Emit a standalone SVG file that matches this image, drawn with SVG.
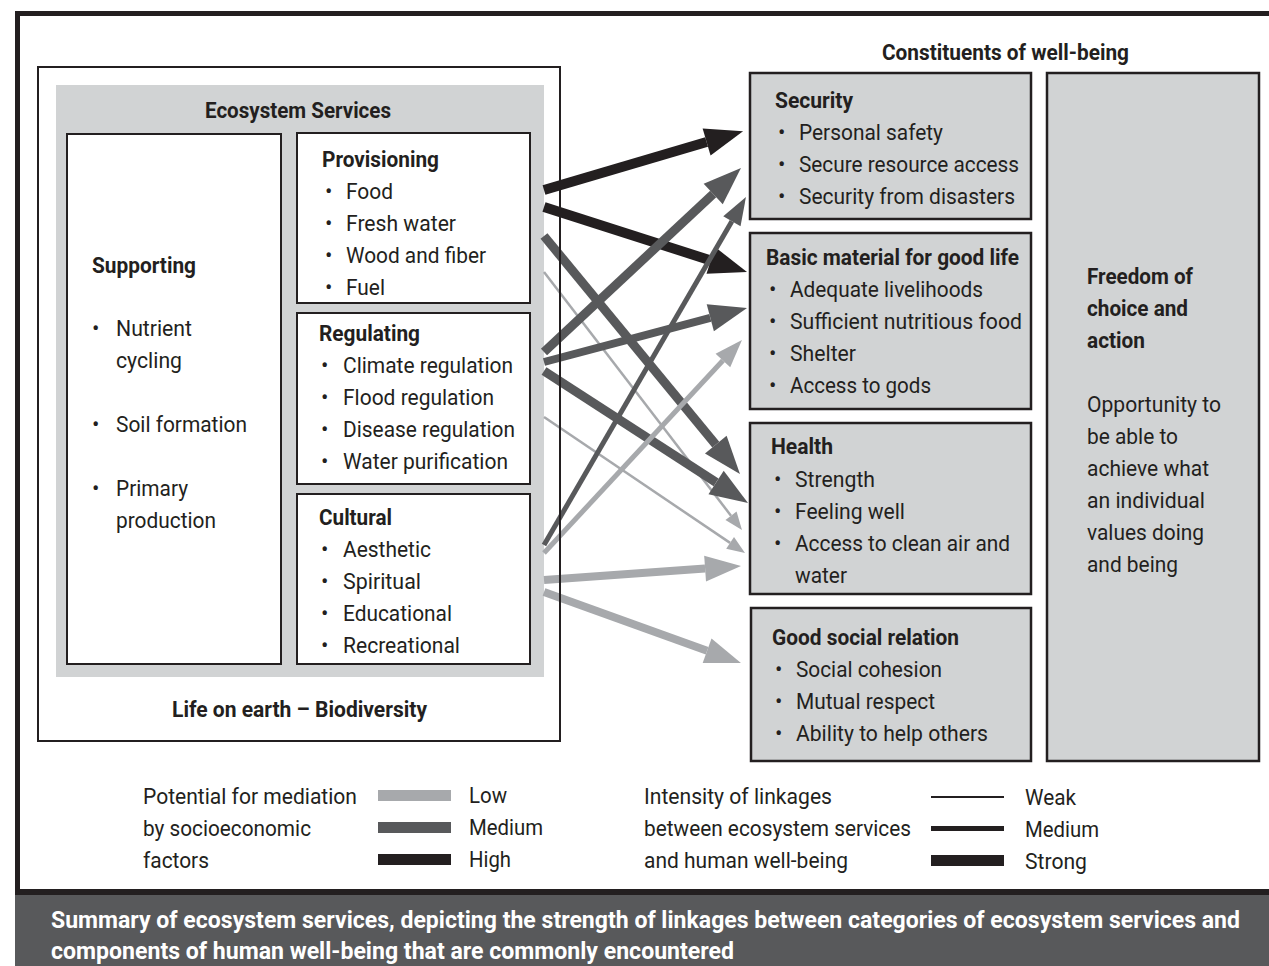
<svg xmlns="http://www.w3.org/2000/svg" width="1269" height="966" viewBox="0 0 1269 966">
  <style>
    .t { font-family: Roboto, "Liberation Sans", sans-serif; font-size: 22px; fill: #231f20; }
    .b { font-weight: 700; }
    .cap { font-family: Roboto, "Liberation Sans", sans-serif; font-size: 23px; font-weight: 700; fill: #ffffff; }
    .box { fill: #ffffff; stroke: #231f20; stroke-width: 2; }
    .gbox { fill: #d1d3d4; stroke: #231f20; stroke-width: 2.5; }
    .hi { stroke: #231f20; fill: none; }
    .md { stroke: #58595b; fill: none; }
    .lo { stroke: #a7a9ac; fill: none; }
  </style>
  <defs>
    <marker id="hHiL" markerUnits="userSpaceOnUse" orient="auto" refX="0" refY="0" markerWidth="40" markerHeight="30" overflow="visible">
      <path d="M0,-14 L38,0 L0,14 Z" fill="#231f20"/>
    </marker>
    <marker id="hMdL" markerUnits="userSpaceOnUse" orient="auto" refX="0" refY="0" markerWidth="40" markerHeight="30" overflow="visible">
      <path d="M0,-14 L38,0 L0,14 Z" fill="#58595b"/>
    </marker>
    <marker id="hMdM" markerUnits="userSpaceOnUse" orient="auto" refX="0" refY="0" markerWidth="30" markerHeight="22" overflow="visible">
      <path d="M0,-10 L28,0 L0,10 Z" fill="#58595b"/>
    </marker>
    <marker id="hLoL" markerUnits="userSpaceOnUse" orient="auto" refX="0" refY="0" markerWidth="40" markerHeight="30" overflow="visible">
      <path d="M0,-13 L36,0 L0,13 Z" fill="#a7a9ac"/>
    </marker>
    <marker id="hLoM" markerUnits="userSpaceOnUse" orient="auto" refX="0" refY="0" markerWidth="30" markerHeight="22" overflow="visible">
      <path d="M0,-10 L28,0 L0,10 Z" fill="#a7a9ac"/>
    </marker>
    <marker id="hLoS" markerUnits="userSpaceOnUse" orient="auto" refX="0" refY="0" markerWidth="20" markerHeight="16" overflow="visible">
      <path d="M0,-7 L18,0 L0,7 Z" fill="#a7a9ac"/>
    </marker>
  </defs>

  <!-- page frame and caption band -->
  <rect x="0" y="0" width="1269" height="966" fill="#ffffff"/>
  <rect x="15" y="11" width="1254" height="5" fill="#231f20"/>
  <rect x="15" y="11" width="5" height="884" fill="#231f20"/>
  <rect x="15" y="889" width="1254" height="6" fill="#231f20"/>
  <rect x="15" y="895" width="1254" height="71" fill="#58595b"/>
  <text class="cap" x="51" y="928" textLength="1189" lengthAdjust="spacingAndGlyphs">Summary of ecosystem services, depicting the strength of linkages between categories of ecosystem services and</text>
  <text class="cap" x="51" y="959" textLength="683" lengthAdjust="spacingAndGlyphs">components of human well-being that are commonly encountered</text>

  <!-- Life on earth container -->
  <g id="biodiversity">
    <rect x="38" y="67" width="522" height="674" fill="#ffffff"/>
    <rect x="56" y="85" width="488" height="592" fill="#d1d3d4"/>
    <text class="t b" x="205" y="118" textLength="186" lengthAdjust="spacingAndGlyphs">Ecosystem Services</text>
    <text class="t b" x="172" y="717" textLength="255" lengthAdjust="spacingAndGlyphs">Life on earth – Biodiversity</text>
  </g>

  <g id="supporting">
    <rect class="box" x="67" y="134" width="214" height="530"/>
    <text class="t b" x="92" y="273" textLength="104" lengthAdjust="spacingAndGlyphs">Supporting</text>
    <text class="t" x="92" y="336">•</text>
    <text class="t" x="116" y="336" textLength="76" lengthAdjust="spacingAndGlyphs">Nutrient</text>
    <text class="t" x="116" y="368" textLength="66" lengthAdjust="spacingAndGlyphs">cycling</text>
    <text class="t" x="92" y="432">•</text>
    <text class="t" x="116" y="432" textLength="131" lengthAdjust="spacingAndGlyphs">Soil formation</text>
    <text class="t" x="92" y="496">•</text>
    <text class="t" x="116" y="496" textLength="72" lengthAdjust="spacingAndGlyphs">Primary</text>
    <text class="t" x="116" y="528" textLength="100" lengthAdjust="spacingAndGlyphs">production</text>
  </g>

  <g id="provisioning">
    <rect class="box" x="297" y="133" width="233" height="170"/>
    <text class="t b" x="322" y="167" textLength="117" lengthAdjust="spacingAndGlyphs">Provisioning</text>
    <text class="t" x="325" y="199">•</text>
    <text class="t" x="346" y="199" textLength="47" lengthAdjust="spacingAndGlyphs">Food</text>
    <text class="t" x="325" y="231">•</text>
    <text class="t" x="346" y="231" textLength="110" lengthAdjust="spacingAndGlyphs">Fresh water</text>
    <text class="t" x="325" y="263">•</text>
    <text class="t" x="346" y="263" textLength="140" lengthAdjust="spacingAndGlyphs">Wood and fiber</text>
    <text class="t" x="325" y="295">•</text>
    <text class="t" x="346" y="295" textLength="39" lengthAdjust="spacingAndGlyphs">Fuel</text>
  </g>

  <g id="regulating">
    <rect class="box" x="297" y="313" width="233" height="171"/>
    <text class="t b" x="319" y="341" textLength="101" lengthAdjust="spacingAndGlyphs">Regulating</text>
    <text class="t" x="321" y="373">•</text>
    <text class="t" x="343" y="373" textLength="170" lengthAdjust="spacingAndGlyphs">Climate regulation</text>
    <text class="t" x="321" y="405">•</text>
    <text class="t" x="343" y="405" textLength="151" lengthAdjust="spacingAndGlyphs">Flood regulation</text>
    <text class="t" x="321" y="437">•</text>
    <text class="t" x="343" y="437" textLength="172" lengthAdjust="spacingAndGlyphs">Disease regulation</text>
    <text class="t" x="321" y="469">•</text>
    <text class="t" x="343" y="469" textLength="165" lengthAdjust="spacingAndGlyphs">Water purification</text>
  </g>

  <g id="cultural">
    <rect class="box" x="297" y="494" width="233" height="170"/>
    <text class="t b" x="319" y="525" textLength="73" lengthAdjust="spacingAndGlyphs">Cultural</text>
    <text class="t" x="321" y="557">•</text>
    <text class="t" x="343" y="557" textLength="88" lengthAdjust="spacingAndGlyphs">Aesthetic</text>
    <text class="t" x="321" y="589">•</text>
    <text class="t" x="343" y="589" textLength="78" lengthAdjust="spacingAndGlyphs">Spiritual</text>
    <text class="t" x="321" y="621">•</text>
    <text class="t" x="343" y="621" textLength="109" lengthAdjust="spacingAndGlyphs">Educational</text>
    <text class="t" x="321" y="653">•</text>
    <text class="t" x="343" y="653" textLength="117" lengthAdjust="spacingAndGlyphs">Recreational</text>
  </g>

  <!-- linkages: ecosystem services to constituents of well-being -->
  <g id="connectors">
    <line class="lo" x1="544" y1="272" x2="731" y2="515.7" stroke-width="2.5" marker-end="url(#hLoS)"/>
    <line class="lo" x1="544" y1="417" x2="730.1" y2="542.9" stroke-width="2.5" marker-end="url(#hLoS)"/>
    <line class="hi" x1="544" y1="190" x2="706.6" y2="142" stroke-width="10" marker-end="url(#hHiL)"/>
    <line class="hi" x1="544" y1="207" x2="710.8" y2="260.4" stroke-width="10" marker-end="url(#hHiL)"/>
    <line class="md" x1="544" y1="236" x2="715.8" y2="444.7" stroke-width="9" marker-end="url(#hMdL)"/>
    <line class="md" x1="544" y1="371" x2="716.1" y2="482.4" stroke-width="9" marker-end="url(#hMdL)"/>
    <line class="md" x1="544" y1="352" x2="713.2" y2="194" stroke-width="9" marker-end="url(#hMdL)"/>
    <line class="md" x1="544" y1="362" x2="710.3" y2="317.8" stroke-width="8" marker-end="url(#hMdL)"/>
    <line class="md" x1="544" y1="545" x2="731.9" y2="221.2" stroke-width="5" marker-end="url(#hMdM)"/>
    <line class="lo" x1="544" y1="553" x2="722.9" y2="360.5" stroke-width="5" marker-end="url(#hLoM)"/>
    <line class="lo" x1="544" y1="580" x2="705.1" y2="568.6" stroke-width="8" marker-end="url(#hLoL)"/>
    <line class="lo" x1="544" y1="592" x2="707.1" y2="650.8" stroke-width="8" marker-end="url(#hLoL)"/>
  </g>

  <!-- outline of the biodiversity container sits over the linkage lines -->
  <rect x="38" y="67" width="522" height="674" fill="none" stroke="#231f20" stroke-width="2"/>

  <text class="t b" x="882" y="60" textLength="247" lengthAdjust="spacingAndGlyphs">Constituents of well-being</text>

  <g id="security">
    <rect class="gbox" x="750" y="73" width="281" height="146"/>
    <text class="t b" x="775" y="108" textLength="78" lengthAdjust="spacingAndGlyphs">Security</text>
    <text class="t" x="778" y="140">•</text>
    <text class="t" x="799" y="140" textLength="144" lengthAdjust="spacingAndGlyphs">Personal safety</text>
    <text class="t" x="778" y="172">•</text>
    <text class="t" x="799" y="172" textLength="220" lengthAdjust="spacingAndGlyphs">Secure resource access</text>
    <text class="t" x="778" y="204">•</text>
    <text class="t" x="799" y="204" textLength="216" lengthAdjust="spacingAndGlyphs">Security from disasters</text>
  </g>

  <g id="basic-material">
    <rect class="gbox" x="750" y="233" width="281" height="176"/>
    <text class="t b" x="766" y="265" textLength="253" lengthAdjust="spacingAndGlyphs">Basic material for good life</text>
    <text class="t" x="769" y="297">•</text>
    <text class="t" x="790" y="297" textLength="193" lengthAdjust="spacingAndGlyphs">Adequate livelihoods</text>
    <text class="t" x="769" y="329">•</text>
    <text class="t" x="790" y="329" textLength="232" lengthAdjust="spacingAndGlyphs">Sufficient nutritious food</text>
    <text class="t" x="769" y="361">•</text>
    <text class="t" x="790" y="361" textLength="66" lengthAdjust="spacingAndGlyphs">Shelter</text>
    <text class="t" x="769" y="393">•</text>
    <text class="t" x="790" y="393" textLength="141" lengthAdjust="spacingAndGlyphs">Access to gods</text>
  </g>

  <g id="health">
    <rect class="gbox" x="750" y="423" width="281" height="171"/>
    <text class="t b" x="771" y="454" textLength="62" lengthAdjust="spacingAndGlyphs">Health</text>
    <text class="t" x="774" y="487">•</text>
    <text class="t" x="795" y="487" textLength="80" lengthAdjust="spacingAndGlyphs">Strength</text>
    <text class="t" x="774" y="519">•</text>
    <text class="t" x="795" y="519" textLength="110" lengthAdjust="spacingAndGlyphs">Feeling well</text>
    <text class="t" x="774" y="551">•</text>
    <text class="t" x="795" y="551" textLength="215" lengthAdjust="spacingAndGlyphs">Access to clean air and</text>
    <text class="t" x="795" y="583" textLength="52" lengthAdjust="spacingAndGlyphs">water</text>
  </g>

  <g id="social-relations">
    <rect class="gbox" x="751" y="608" width="280" height="153"/>
    <text class="t b" x="772" y="645" textLength="187" lengthAdjust="spacingAndGlyphs">Good social relation</text>
    <text class="t" x="775" y="677">•</text>
    <text class="t" x="796" y="677" textLength="146" lengthAdjust="spacingAndGlyphs">Social cohesion</text>
    <text class="t" x="775" y="709">•</text>
    <text class="t" x="796" y="709" textLength="139" lengthAdjust="spacingAndGlyphs">Mutual respect</text>
    <text class="t" x="775" y="741">•</text>
    <text class="t" x="796" y="741" textLength="192" lengthAdjust="spacingAndGlyphs">Ability to help others</text>
  </g>

  <g id="freedom">
    <rect class="gbox" x="1047" y="73" width="212" height="688"/>
    <text class="t b" x="1087" y="284" textLength="106" lengthAdjust="spacingAndGlyphs">Freedom of</text>
    <text class="t b" x="1087" y="316" textLength="101" lengthAdjust="spacingAndGlyphs">choice and</text>
    <text class="t b" x="1087" y="348" textLength="58" lengthAdjust="spacingAndGlyphs">action</text>
    <text class="t" x="1087" y="412" textLength="134" lengthAdjust="spacingAndGlyphs">Opportunity to</text>
    <text class="t" x="1087" y="444" textLength="91" lengthAdjust="spacingAndGlyphs">be able to</text>
    <text class="t" x="1087" y="476" textLength="122" lengthAdjust="spacingAndGlyphs">achieve what</text>
    <text class="t" x="1087" y="508" textLength="118" lengthAdjust="spacingAndGlyphs">an individual</text>
    <text class="t" x="1087" y="540" textLength="117" lengthAdjust="spacingAndGlyphs">values doing</text>
    <text class="t" x="1087" y="572" textLength="91" lengthAdjust="spacingAndGlyphs">and being</text>
  </g>

  <!-- legends -->
  <g id="legend-mediation">
    <text class="t" x="143" y="804" textLength="214" lengthAdjust="spacingAndGlyphs">Potential for mediation</text>
    <text class="t" x="143" y="836" textLength="168" lengthAdjust="spacingAndGlyphs">by socioeconomic</text>
    <text class="t" x="143" y="868" textLength="66" lengthAdjust="spacingAndGlyphs">factors</text>
    <rect x="378" y="790" width="73" height="11" fill="#a7a9ac"/>
    <rect x="378" y="822" width="73" height="11" fill="#58595b"/>
    <rect x="378" y="854" width="73" height="11" fill="#231f20"/>
    <text class="t" x="469" y="803" textLength="38" lengthAdjust="spacingAndGlyphs">Low</text>
    <text class="t" x="469" y="835" textLength="74" lengthAdjust="spacingAndGlyphs">Medium</text>
    <text class="t" x="469" y="867" textLength="42" lengthAdjust="spacingAndGlyphs">High</text>
  </g>

  <g id="legend-intensity">
    <text class="t" x="644" y="804" textLength="188" lengthAdjust="spacingAndGlyphs">Intensity of linkages</text>
    <text class="t" x="644" y="836" textLength="267" lengthAdjust="spacingAndGlyphs">between ecosystem services</text>
    <text class="t" x="644" y="868" textLength="204" lengthAdjust="spacingAndGlyphs">and human well-being</text>
    <rect x="931" y="796" width="73" height="2" fill="#231f20"/>
    <rect x="931" y="826" width="73" height="5" fill="#231f20"/>
    <rect x="931" y="855" width="73" height="11" fill="#231f20"/>
    <text class="t" x="1025" y="805" textLength="51" lengthAdjust="spacingAndGlyphs">Weak</text>
    <text class="t" x="1025" y="837" textLength="74" lengthAdjust="spacingAndGlyphs">Medium</text>
    <text class="t" x="1025" y="869" textLength="62" lengthAdjust="spacingAndGlyphs">Strong</text>
  </g>
</svg>
